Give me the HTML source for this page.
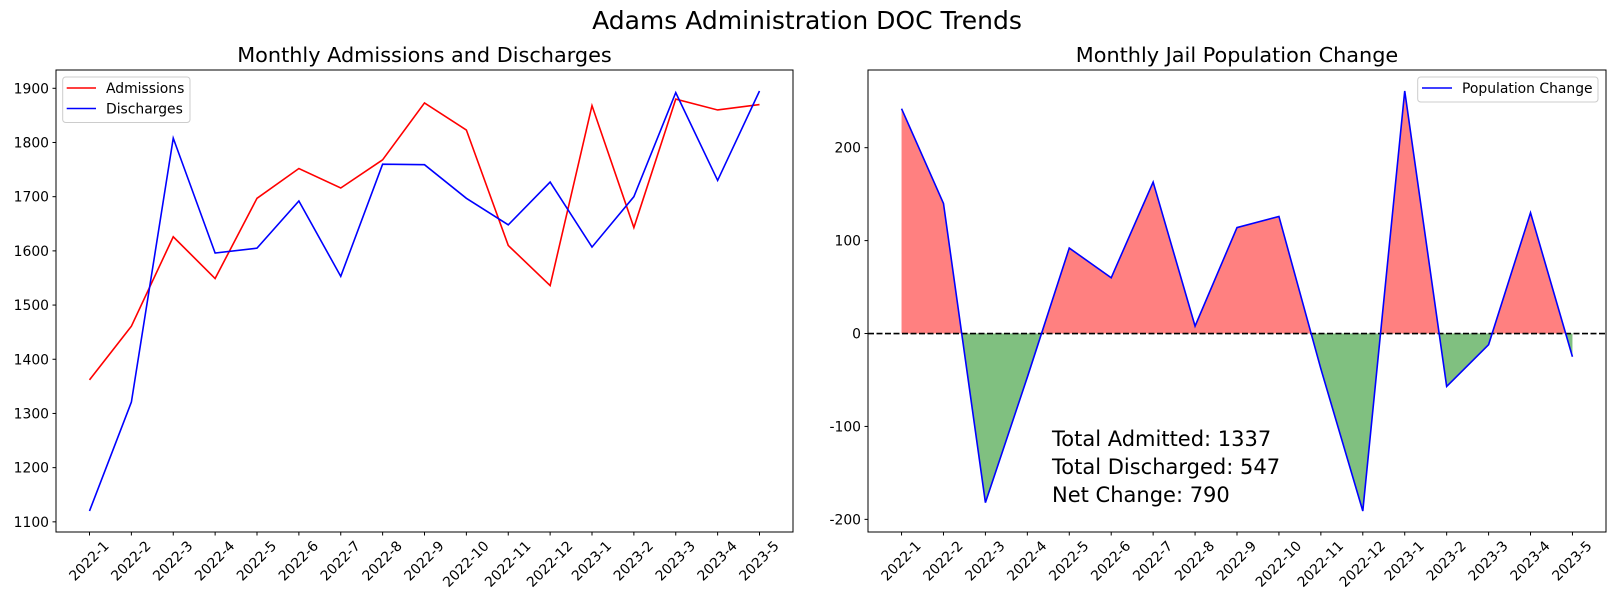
<!DOCTYPE html>
<html><head><meta charset="utf-8"><style>
body{margin:0;background:#fff;}
svg{display:block;font-family:"DejaVu Sans","Liberation Sans",sans-serif;}
</style></head><body>
<svg id="fig" width="1614" height="602" viewBox="0 0 1614 602">
<rect width="1614" height="602" fill="#fff"/>
<text x="807" y="29" font-size="25" text-anchor="middle">Adams Administration DOC Trends</text>
<g id="left"></g>
<g id="right"></g>
</svg>
<script>
const months = ["2022-1","2022-2","2022-3","2022-4","2022-5","2022-6","2022-7","2022-8","2022-9","2022-10","2022-11","2022-12","2023-1","2023-2","2023-3","2023-4","2023-5"];
const admissions = [1362,1461,1626,1549,1697,1752,1716,1768,1873,1823,1610,1536,1868,1643,1880,1860,1870];
const discharges = [1120,1321,1808,1596,1605,1692,1553,1760,1759,1697,1648,1727,1607,1700,1892,1730,1895];
const leftTicks = [1100,1200,1300,1400,1500,1600,1700,1800,1900];
const rightTicks = [-200,-100,0,100,200];
const summaryLines = ["Total Admitted: 1337","Total Discharged: 547","Net Change: 790"];

const NS="http://www.w3.org/2000/svg";
function mk(parent,tag,attrs,text){const e=document.createElementNS(NS,tag);for(const k in attrs)e.setAttribute(k,attrs[k]);if(text!==undefined)e.textContent=text;parent.appendChild(e);return e;}
const popChange = admissions.map((a,i)=>a-discharges[i]);

function setupAxes(g,box,series,ticks,title,name){
  const all=[].concat(...series);
  const mn=Math.min(...all),mx=Math.max(...all),r=mx-mn;
  const y0=mn-0.05*r,y1=mx+0.05*r;
  const n=months.length;const xm=0.05*(n-1);
  const X=i=>box.x+(i+xm)/(n-1+2*xm)*box.w;
  const Y=v=>box.y+box.h-(v-y0)/(y1-y0)*box.h;
  const t=mk(g,'text',{x:box.x+box.w/2,y:62,'font-size':20.8,'text-anchor':'middle'},title);
  
  
  ticks.forEach(v=>{
    const l=mk(g,'line',{x1:box.x-3.5,x2:box.x,y1:Y(v),y2:Y(v),stroke:'#000','stroke-width':1});
    
    
    const tl=mk(g,'text',{x:box.x-7,y:Y(v)+5,'font-size':13.9,'text-anchor':'end'},String(v));
    
    
  });
  months.forEach((m,i)=>{
    const l=mk(g,'line',{x1:X(i),x2:X(i),y1:box.y+box.h,y2:box.y+box.h+3.5,stroke:'#000','stroke-width':1});
    
    
    const tx=mk(g,'text',{'font-size':13.9,'text-anchor':'middle','dominant-baseline':'central'},m);
    
    
    const w=tx.getComputedTextLength();const h=(w+14)/Math.SQRT2;
    const cx=X(i),cy=box.y+box.h+7+h/2;
    tx.setAttribute('x',cx);tx.setAttribute('y',cy);
    tx.setAttribute('transform','rotate(-45 '+cx+' '+cy+')');
  });
  return {X,Y};
}
function frame(g,box){
  const f=mk(g,'rect',{x:box.x,y:box.y,width:box.w,height:box.h,fill:'none',stroke:'#000','stroke-width':1});
  
  
}
function pathD(vals,X,Y){return vals.map((v,i)=>(i?'L':'M')+X(i).toFixed(2)+' '+Y(v).toFixed(2)).join(' ');}

// Left chart
const L=document.getElementById('left');
const lb={x:56,y:70,w:737,h:462};
const la=setupAxes(L,lb,[admissions,discharges],leftTicks,'Monthly Admissions and Discharges','left-chart');
const pa=mk(L,'path',{d:pathD(admissions,la.X,la.Y),fill:'none',stroke:'#ff0000','stroke-width':1.6});


const pd=mk(L,'path',{d:pathD(discharges,la.X,la.Y),fill:'none',stroke:'#0000ff','stroke-width':1.6});


frame(L,lb);
const lg=mk(L,'g',{});


mk(lg,'rect',{x:62.7,y:77,width:127.3,height:45.5,rx:3,fill:'#fff','fill-opacity':0.8,stroke:'#ccc'});
mk(lg,'line',{x1:66.7,x2:96,y1:88,y2:88,stroke:'#ff0000','stroke-width':1.6});
const le1=mk(lg,'text',{x:106,y:93,'font-size':13.9},'Admissions');


mk(lg,'line',{x1:66.7,x2:96,y1:108.5,y2:108.5,stroke:'#0000ff','stroke-width':1.6});
const le2=mk(lg,'text',{x:106,y:113.5,'font-size':13.9},'Discharges');



// Right chart
const R=document.getElementById('right');
const rb={x:868,y:70,w:738,h:462};
const ra=setupAxes(R,rb,[popChange],rightTicks,'Monthly Jail Population Change','right-chart');
const defs=mk(R,'defs',{});
const cpA=mk(defs,'clipPath',{id:'above'});mk(cpA,'rect',{x:rb.x,y:rb.y,width:rb.w,height:ra.Y(0)-rb.y});
const cpB=mk(defs,'clipPath',{id:'below'});mk(cpB,'rect',{x:rb.x,y:ra.Y(0),width:rb.w,height:rb.y+rb.h-ra.Y(0)});
const n=months.length;
const areaD=pathD(popChange,ra.X,ra.Y)+' L'+ra.X(n-1)+' '+ra.Y(0)+' L'+ra.X(0)+' '+ra.Y(0)+' Z';
const fa=mk(R,'path',{d:areaD,fill:'#ff8080','clip-path':'url(#above)'});


const fb=mk(R,'path',{d:areaD,fill:'#80c080','clip-path':'url(#below)'});


const zl=mk(R,'line',{x1:rb.x,x2:rb.x+rb.w,y1:ra.Y(0),y2:ra.Y(0),stroke:'#000','stroke-width':1.6,'stroke-dasharray':'6,2.5'});


const pl=mk(R,'path',{d:pathD(popChange,ra.X,ra.Y),fill:'none',stroke:'#0000ff','stroke-width':1.6});


frame(R,rb);
summaryLines.forEach((s,i)=>{
  const t=mk(R,'text',{x:1052,y:446+28*i,'font-size':21},s);
  
  
});
const rg=mk(R,'g',{});


mk(rg,'rect',{x:1417.7,y:77,width:180.3,height:25,rx:3,fill:'#fff','fill-opacity':0.8,stroke:'#ccc'});
mk(rg,'line',{x1:1422,x2:1452,y1:88,y2:88,stroke:'#0000ff','stroke-width':1.6});
const re=mk(rg,'text',{x:1462,y:93,'font-size':13.9},'Population Change');


</script>
</body></html>
